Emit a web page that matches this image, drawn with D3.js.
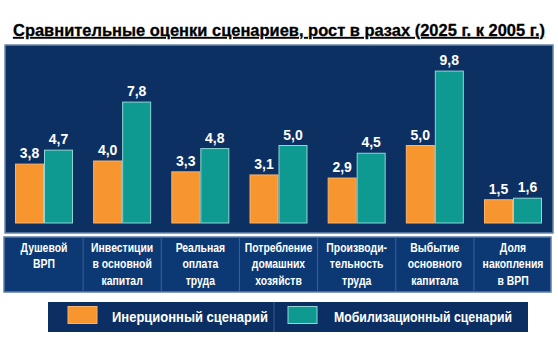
<!DOCTYPE html>
<html><head><meta charset="utf-8">
<script src="https://cdn.jsdelivr.net/npm/d3@7"></script>
<style>
html,body{margin:0;padding:0;background:#fff;}
svg{display:block;}
text{font-family:"Liberation Sans",Arial,sans-serif;}
</style></head>
<body>
<svg id="chart" width="558" height="339"></svg>
<script>
const title = "Сравнительные оценки сценариев, рост в разах (2025 г. к 2005 г.)";
const categories = [
  "Душевой\nВРП",
  "Инвестиции\nв основной\nкапитал",
  "Реальная\nоплата\nтруда",
  "Потребление\nдомашних\nхозяйств",
  "Производи-\nтельность\nтруда",
  "Выбытие\nосновного\nкапитала",
  "Доля\nнакопления\nв ВРП"
];
const seriesNames = ["Инерционный сценарий", "Мобилизационный сценарий"];
const inertial = [3.8, 4.0, 3.3, 3.1, 2.9, 5.0, 1.5];
const mobilization = [4.7, 7.8, 4.8, 5.0, 4.5, 9.8, 1.6];
const colors = ["#f7952f", "#0f9a91"];
const strokes = ["#fbb26a", "#8fd6d6"];

const svg = d3.select("#chart");
const fmt = v => d3.format(".1f")(v).replace(".", ",");

// Title
svg.append("text")
  .attr("x", 13).attr("y", 36)
  .attr("font-size", 16.5).attr("font-weight", "bold")
  .attr("fill", "#000")
  .attr("stroke", "#000").attr("stroke-width", 0.3)
  .style("text-decoration", "underline")
  .attr("textLength", 532).attr("lengthAdjust", "spacingAndGlyphs")
  .text(title);

// Plot panel
svg.append("rect").attr("x", 5).attr("y", 45).attr("width", 548).attr("height", 188)
  .attr("fill", "#0d3062").attr("stroke", "#6b86a8").attr("stroke-width", 1.5);

const x = d3.scaleBand().domain(categories).range([15, 542]).paddingInner(0.258).paddingOuter(0);
const xi = d3.scaleBand().domain(seriesNames).range([0, x.bandwidth()]);
const y = d3.scaleLinear().domain([0, 10]).range([223, 68]);

const data = categories.map((c, i) => ({cat: c, vals: [inertial[i], mobilization[i]]}));

const groups = svg.append("g").selectAll("g").data(data).join("g")
  .attr("transform", d => `translate(${x(d.cat)},0)`);

groups.selectAll("rect").data(d => d.vals.map((v, k) => ({v, k}))).join("rect")
  .attr("x", d => xi(seriesNames[d.k]) + 0.5)
  .attr("y", d => y(d.v))
  .attr("width", xi.bandwidth() - 1)
  .attr("height", d => y(0) - y(d.v))
  .attr("fill", d => colors[d.k])
  .attr("stroke", d => strokes[d.k]).attr("stroke-width", 1);

groups.selectAll("text").data(d => d.vals.map((v, k) => ({v, k}))).join("text")
  .attr("x", d => xi(seriesNames[d.k]) + xi.bandwidth() / 2)
  .attr("y", d => y(d.v) - 6)
  .attr("text-anchor", "middle")
  .attr("font-size", 14).attr("font-weight", "bold")
  .attr("fill", "#fff")
  .text(d => fmt(d.v));

// Category panel
svg.append("rect").attr("x", 4).attr("y", 237).attr("width", 547).attr("height", 55)
  .attr("fill", "#0c3874").attr("stroke", "#5f7fa6").attr("stroke-width", 1.5);

const step = x.step();
const dividers = categories.slice(1).map(c => x(c) - (step - x.bandwidth()) / 2);
svg.selectAll("line.div").data(dividers).join("line")
  .attr("x1", d => d).attr("x2", d => d).attr("y1", 238).attr("y2", 291)
  .attr("stroke", "#3f6293").attr("stroke-width", 1);

const axis = d3.axisBottom(x).tickSize(0).tickPadding(0);
const ax = svg.append("g").attr("transform", "translate(0,240)").call(axis);
ax.select(".domain").remove();
const catFont = 13, squeeze = 0.8;
ax.selectAll(".tick text").each(function(d) {
  const el = d3.select(this);
  el.text(null).attr("y", 0).attr("dy", null).attr("text-anchor", "start")
    .attr("fill", "#fff").attr("font-size", catFont).attr("font-weight", "bold");
  d.split("\n").forEach((ln, i) => {
    const probe = svg.append("text").attr("font-size", catFont).attr("font-weight", "bold").text(ln);
    const w = probe.node().getComputedTextLength() * squeeze;
    probe.remove();
    el.append("tspan").attr("x", -w / 2).attr("y", 11.5 + i * 16.5)
      .attr("textLength", w).attr("lengthAdjust", "spacingAndGlyphs")
      .text(ln);
  });
});

// Legend
svg.append("rect").attr("x", 48).attr("y", 302).attr("width", 480).attr("height", 30)
  .attr("fill", "#0b2f63");
svg.append("line").attr("x1", 274).attr("x2", 274).attr("y1", 302).attr("y2", 332)
  .attr("stroke", "#3a5d8f").attr("stroke-width", 1);
const legX = [68, 288];
const legTX = [112, 334];
const legW = [156, 178];
seriesNames.forEach((s, k) => {
  svg.append("rect").attr("x", legX[k]).attr("y", 306.5).attr("width", 29).attr("height", 17)
    .attr("fill", colors[k]).attr("stroke", strokes[k]).attr("stroke-width", 1);
  svg.append("text").attr("x", legTX[k]).attr("y", 321.5)
    .attr("font-size", 14.5).attr("font-weight", "bold").attr("fill", "#fff")
    .attr("textLength", legW[k]).attr("lengthAdjust", "spacingAndGlyphs")
    .text(s);
});
</script>
</body></html>
